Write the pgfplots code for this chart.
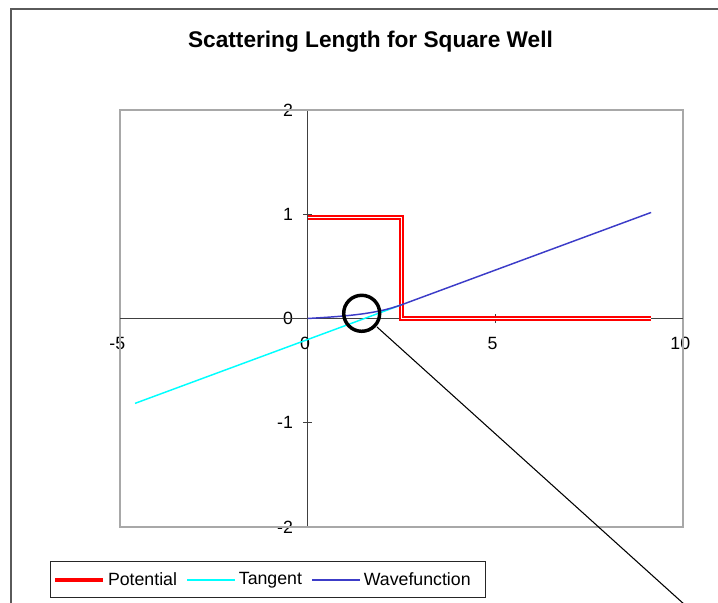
\documentclass[border=0pt]{standalone}
\usepackage{pgfplots}
\pgfplotsset{compat=1.18}
\usepackage{fontspec}
\setmainfont{Liberation Sans}
\definecolor{wavecol}{RGB}{60,60,200}
\definecolor{tancol}{RGB}{0,255,255}
\definecolor{potcol}{RGB}{255,0,0}
\definecolor{axiscol}{RGB}{64,64,64}
\definecolor{framecol}{RGB}{168,168,168}
\definecolor{chartcol}{RGB}{90,90,90}
\begin{document}
\begin{tikzpicture}[x=0.75pt,y=0.75pt]
\useasboundingbox (0,0) rectangle (718,603);
\coordinate (plotorigin) at (120,76);
\begin{scope}
\clip (0,0) rectangle (718,603);
% chart area frame
\draw[chartcol, line width=1.5pt] (11,-20) -- (11,594) -- (740,594);
\node[font=\bfseries\fontsize{17}{20}\selectfont] at (370.5,561) {Scattering Length for Square Well};
\begin{axis}[
  at={(plotorigin)}, anchor=south west,
  scale only axis, width=422.25pt, height=312.75pt,
  xmin=-5, xmax=10, ymin=-2, ymax=2,
  axis lines=middle,
  axis line style={axiscol, line width=1.1pt, -},
  x axis line style={draw=none},
  xtick={-5,0,5,10}, ytick={-2,-1,0,1,2},
  hide obscured x ticks=false, hide obscured y ticks=false,
  tick align=center, major tick length=7pt,
  tick style={axiscol, line width=1.1pt},
  minor tick num=0,
  /pgf/number format/assume math mode=true,
  ticklabel style={font=\fontsize{13.3}{15}\selectfont, text=black},
  xticklabel style={anchor=north, yshift=-7pt, xshift=-2pt},
  yticklabel style={anchor=east, xshift=-4pt},
  clip=false,
  legend columns=-1,
  legend style={at={(-0.1243,-0.0815)}, anchor=north west,
    draw=black!85, line width=1pt,
    font=\fontsize{13.3}{15}\selectfont,
    inner xsep=2pt, inner ysep=6pt,
    /tikz/every even column/.append style={column sep=5pt}},
  legend image code/.code={\draw[#1] (0pt,0pt) -- (36pt,0pt);},
]
% plot area frame and the horizontal axis line, below the curves
\draw[framecol, line width=1.5pt] (rel axis cs:0,0) rectangle (rel axis cs:1,1);
\draw[axiscol, line width=1.1pt] (axis cs:-5,0) -- (axis cs:10,0);

\addlegendimage{draw=potcol, line width=3pt}
\addlegendentry{Potential}
\addlegendimage{draw=tancol, line width=1.4pt}
\addlegendentry{Tangent}
\addlegendimage{draw=wavecol, line width=1.4pt}
\addlegendentry{Wavefunction\kern7pt}

% square barrier potential
\addplot[forget plot, draw=potcol, line width=1.15pt, double=white, double distance=1.3pt] coordinates {
  (0,0.97) (2.5,0.97) (2.5,0) (9.15,0)
};
% tangent to the outer wavefunction
\addplot[forget plot, draw=tancol, line width=1.1pt] coordinates {
  (-4.6,-0.8142) (0,-0.2016) (2.5,0.1314)
};
% wavefunction
\addplot[forget plot, draw=wavecol, line width=1.1pt] coordinates {
  (0,0) (0.25,0.00549) (0.5,0.01132) (0.75,0.01786) (1.0,0.02553)
  (1.25,0.03479) (1.5,0.04625) (1.75,0.06061) (2.0,0.07878)
  (2.25,0.10189) (2.5,0.13141) (4,0.3312) (6,0.5976) (8,0.8640) (9.15,1.0171)
};
\end{axis}
% marker on the scattering length
\draw[black, line width=2.6pt] (361.7,289.7) circle[radius=18];
\draw[black, line width=0.8pt] (377,276) -- (685,-2);
\end{scope}
\end{tikzpicture}
\end{document}
